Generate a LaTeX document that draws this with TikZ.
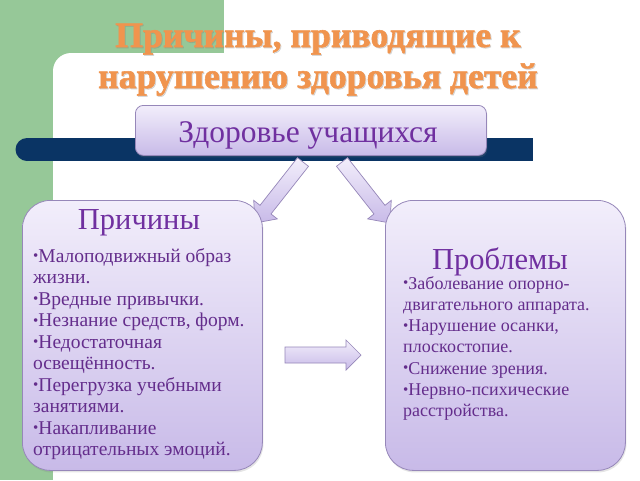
\documentclass[tikz,border=0pt]{standalone}
\usepackage{fontspec}
\setmainfont{Liberation Serif}
\newfontfamily\titlefont{Liberation Serif}[UprightFont={* Bold},FakeBold=1.5]
\usetikzlibrary{calc,shadows}
\definecolor{greenbg}{RGB}{150,200,152}
\definecolor{navybar}{RGB}{10,52,100}
\definecolor{boxtop}{RGB}{242,238,251}
\definecolor{boxbot}{RGB}{200,186,232}
\definecolor{boxline}{RGB}{150,135,185}
\definecolor{titlepurple}{RGB}{112,48,160}
\definecolor{bodypurple}{RGB}{100,45,140}
\definecolor{orangetitle}{RGB}{240,148,78}
\newcommand\bl{{\fontsize{15}{15}\selectfont\raisebox{1.5pt}{•}}}
\newcommand\blockarr[5]{% tail, headbase, tip, halfshaft, halfhead
 \path[flow] ($(#1)!#4!90:(#3)$) -- ($(#2)!#4!-90:(#1)$) -- ($(#2)!#5!-90:(#1)$) -- (#3) -- ($(#2)!#5!90:(#1)$) -- ($(#2)!#4!90:(#1)$) -- ($(#1)!#4!-90:(#3)$) -- cycle;}
\tikzset{
 panel/.style={draw=boxline, line width=0.8pt, top color=boxtop, bottom color=boxbot, inner sep=0pt,
   drop shadow={opacity=0.2, shadow xshift=1pt, shadow yshift=-2pt}},
 bigbox/.style={panel, rounded corners=28pt, minimum width=240pt, minimum height=270pt, anchor=north west},
 headbox/.style={panel, rounded corners=8pt, minimum width=351pt, minimum height=50pt, anchor=north west},
 boxtitle/.style={text=titlepurple, font=\fontsize{30.5}{30.5}\selectfont, anchor=base, inner sep=0pt},
 bodyline/.style={text=bodypurple, font=\fontsize{19.5}{19.5}\selectfont, anchor=base west, inner sep=0pt},
 bodyright/.style={text=bodypurple, font=\fontsize{18}{18}\selectfont, anchor=base west, inner sep=0pt},
 flow/.style={draw=boxline, line width=0.7pt, top color=boxtop, bottom color=boxbot, line join=miter},
 titleline/.style={text=orangetitle, font=\titlefont\fontsize{35.7}{35.7}\selectfont, anchor=base, inner sep=0pt},
 titleshadow/.style={text=black!50, opacity=0.25, font=\titlefont\fontsize{35.7}{35.7}\selectfont, anchor=base, inner sep=0pt},
}
\begin{document}
\begin{tikzpicture}[x=1pt,y=-1pt]
\useasboundingbox (0,0) rectangle (640,480);
% background
\fill[white] (0,0) rectangle (640,480);
\fill[greenbg] (0,0) rectangle (224,480);
\fill[white, rounded corners=18pt] (53,53) rectangle (700,540);
% navy bar
\fill[navybar] (27,138) rectangle (533,161);
\fill[navybar] (27,149.5) circle[radius=11.5pt];
% title
\node[titleshadow] (t1s) at (319,48) {Причины, приводящие к};
\node[titleshadow] (t2s) at (319,89) {нарушению здоровья детей};
\node[titleline] (t1) at (318,47) {Причины, приводящие к};
\node[titleline] (t2) at (318,88) {нарушению здоровья детей};
% arrows
\coordinate (a1t) at (303,162); \coordinate (a1p) at (255,223);
\coordinate (a1h) at ($(a1p)!17pt!(a1t)$);
\coordinate (a2t) at (342,162); \coordinate (a2p) at (390,223);
\coordinate (a2h) at ($(a2p)!17pt!(a2t)$);
\coordinate (a3t) at (285,355); \coordinate (a3p) at (361,355);
\coordinate (a3h) at ($(a3p)!15pt!(a3t)$);
\blockarr{a1t}{a1h}{a1p}{7pt}{15pt}
\blockarr{a2t}{a2h}{a2p}{7pt}{15pt}
\blockarr{a3t}{a3h}{a3p}{8pt}{15pt}
% boxes
\node[headbox] (health) at (135,105) {};
\node[text=titlepurple, font=\fontsize{31.5}{31.5}\selectfont, anchor=base, inner sep=0pt] (healthtxt) at (308,142) {Здоровье учащихся};
\node[bigbox] (causes) at (22,200) {};
\node[bigbox] (problems) at (385,200) {};
\node[boxtitle] (causestitle) at (139,229) {Причины};
\node[boxtitle] (problemstitle) at (500,269) {Проблемы};
\foreach \t [count=\i] in {{\bl Малоподвижный образ},{жизни.},{\bl Вредные привычки.},{\bl Незнание средств, форм.},{\bl Недостаточная},{освещённость.},{\bl Перегрузка учебными},{занятиями.},{\bl Накапливание},{отрицательных эмоций.}}
  \node[bodyline] (cl\i) at (33,{262+21.5*(\i-1)}) {\t};
\foreach \t [count=\i] in {{\bl Заболевание опорно-},{двигательного аппарата.},{\bl Нарушение осанки,},{плоскостопие.},{\bl Снижение зрения.},{\bl Нервно-психические},{расстройства.}}
  \node[bodyright] (pl\i) at (403,{289+21.3*(\i-1)}) {\t};
\end{tikzpicture}
\end{document}
